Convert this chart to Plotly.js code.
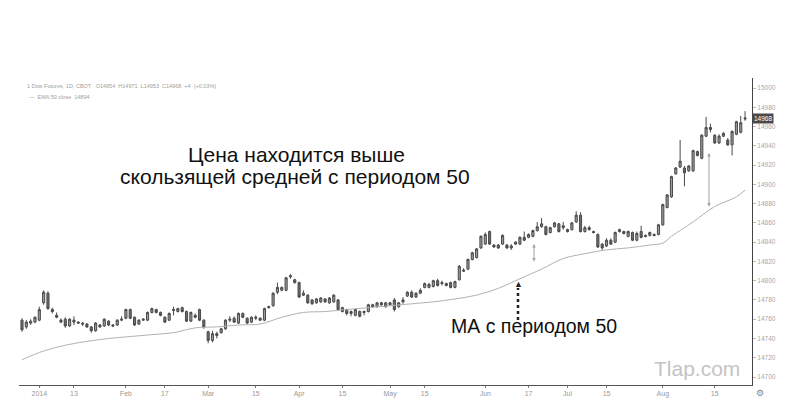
<!DOCTYPE html>
<html><head><meta charset="utf-8">
<script src="https://cdn.plot.ly/plotly-3.0.1.min.js"></script>
<style>html,body{margin:0;padding:0;background:#fff}#chart{width:798px;height:418px}</style>
</head><body><div id="chart"></div>
<script>
// daily candles (index order)
const opens = [14759,14752,14756,14757,14759,14777,14787,14770,14764,14759,
14760,14753,14759,14757,14756,14755,14752,14748,14754,14753,
14758,14754,14754,14759,14761,14770,14762,14755,14759,14759,
14767,14770,14767,14762,14759,14769,14768,14772,14768,14758,
14764,14770,14759,14747,14738,14745,14746,14750,14759,14761,
14756,14766,14761,14757,14761,14761,14759,14772,14774,14788,
14790,14790,14804,14801,14798,14785,14785,14780,14777,14778,
14781,14777,14778,14780,14772,14770,14768,14764,14768,14767,
14768,14775,14773,14777,14777,14775,14780,14773,14778,14784,
14788,14783,14787,14793,14793,14794,14800,14797,14797,14798,
14793,14801,14811,14812,14822,14824,14834,14838,14851,14837,
14837,14838,14837,14834,14838,14838,14845,14845,14846,14852,
14856,14856,14850,14856,14859,14855,14853,14853,14861,14868,
14851,14855,14851,14848,14838,14836,14842,14840,14851,14851,
14846,14850,14842,14851,14847,14847,14848,14848,14858,14876,
14887,14911,14918,14917,14914,14914,14934,14927,14950,14959,
14951,14943,14950,14946,14941,14952,14954,14969];
const highs = [14761,14759,14760,14763,14773,14790,14789,14772,14767,14761,
14762,14761,14763,14758,14757,14756,14753,14757,14755,14761,
14759,14755,14760,14763,14771,14771,14763,14760,14761,14768,
14772,14771,14768,14763,14767,14773,14772,14773,14769,14768,
14766,14771,14760,14748,14748,14747,14751,14760,14763,14763,
14767,14767,14762,14763,14764,14762,14772,14774,14788,14798,
14794,14804,14807,14802,14799,14790,14786,14781,14782,14783,
14782,14783,14786,14781,14773,14771,14769,14771,14769,14769,
14776,14776,14778,14778,14778,14778,14782,14778,14783,14789,
14790,14788,14792,14798,14798,14801,14802,14800,14798,14799,
14800,14816,14813,14823,14830,14834,14847,14850,14852,14838,
14838,14848,14838,14838,14841,14846,14851,14849,14853,14861,
14865,14857,14856,14861,14860,14861,14854,14861,14872,14871,
14857,14857,14852,14849,14839,14844,14844,14851,14854,14852,
14852,14851,14851,14857,14848,14851,14849,14859,14880,14890,
14909,14918,14946,14919,14920,14936,14935,14952,14970,14963,
14952,14952,14954,14948,14956,14966,14971,14976];
const lows = [14747,14750,14754,14756,14758,14775,14770,14766,14761,14756,
14751,14752,14754,14755,14753,14751,14746,14747,14751,14752,
14753,14752,14753,14758,14760,14760,14753,14754,14758,14758,
14766,14766,14763,14756,14758,14764,14767,14767,14757,14757,
14761,14758,14750,14735,14736,14740,14745,14749,14757,14756,
14755,14761,14755,14756,14759,14758,14758,14771,14773,14786,
14789,14789,14802,14797,14782,14784,14776,14775,14776,14777,
14777,14776,14777,14769,14767,14764,14763,14763,14762,14764,
14767,14772,14772,14774,14772,14774,14768,14772,14776,14783,
14782,14782,14786,14792,14792,14793,14794,14795,14794,14792,
14792,14800,14809,14811,14821,14823,14833,14837,14837,14834,
14833,14837,14833,14832,14837,14837,14841,14844,14845,14851,
14855,14847,14849,14855,14850,14853,14850,14852,14860,14850,
14850,14852,14849,14834,14832,14835,14837,14839,14850,14848,
14845,14841,14841,14844,14845,14846,14846,14847,14857,14875,
14886,14910,14917,14898,14913,14913,14929,14926,14949,14954,
14942,14942,14949,14940,14930,14951,14953,14966];
const closes = [14749,14757,14758,14762,14770,14788,14771,14768,14762,14757,
14753,14760,14757,14756,14755,14752,14748,14756,14752,14760,
14754,14753,14759,14760,14770,14761,14754,14759,14760,14767,
14771,14767,14764,14757,14766,14770,14771,14768,14758,14767,
14762,14759,14752,14738,14745,14743,14750,14759,14760,14757,
14766,14762,14756,14762,14762,14759,14771,14773,14787,14793,
14793,14803,14805,14798,14783,14787,14777,14776,14781,14782,
14778,14782,14785,14770,14768,14766,14766,14770,14763,14768,
14775,14773,14777,14775,14773,14777,14770,14777,14780,14788,
14783,14787,14790,14797,14796,14800,14795,14798,14795,14793,
14799,14815,14810,14822,14829,14833,14846,14848,14838,14835,
14834,14847,14834,14836,14840,14845,14842,14848,14852,14856,
14859,14848,14855,14860,14851,14857,14851,14860,14868,14851,
14855,14853,14850,14835,14834,14842,14838,14850,14853,14849,
14851,14842,14849,14845,14846,14850,14847,14858,14879,14889,
14908,14917,14924,14912,14919,14935,14930,14951,14959,14957,
14943,14950,14953,14941,14955,14965,14964,14968];

// moving average (period 50), read at selected candle indices
const maIndex = [0,5,10,15,20,25,30,35,40,45,50,55,60,65,70,75,80,85,90,95,100,105,110,115,120,125,130,135,140,145,148,150,155,160,165,167];
const maValues = [14718,14727,14733,14737,14740,14742,14744,14746,14751,14752,14754,14755,14762,14767,14768,14770,14772,14774,14776,14778,14781,14785,14792,14802,14812,14823,14828,14832,14834,14837,14839,14846,14861,14877,14887,14894];

// x-axis tick labels
const tickIndex = [4,12,24,33,43,54,64,74,85,93,107,117,126,135,148,160];
const tickLabels = ["2014","13","Feb","17","Mar","15","Apr","15","May","15","Jun","17","Jul","15","Aug","15"];

const headerLine1 = "1 Dow Futures, 1D, CBOT   O14954  H14971  L14953  C14968  +4  (+0.03%)";
const headerLine2 = "—  EMA 50 close  14894";
const textLine1 = "Цена находится выше";
const textLine2 = "скользящей средней с периодом 50";
const maLabel = "МА с периодом 50";
const watermark = "Tlap.com";

const idx = opens.map((_, i) => i);

const L = 19, R = 752, T = 78, B = 385, W = 798, H = 418;
const px = x => (x - L) / (R - L);
const py = y => (B - y) / (B - T);

const traces = [
  {
    type: 'scatter', mode: 'lines', x: maIndex, y: maValues,
    line: {color: '#b2b2b2', width: 1, shape: 'spline'}, hoverinfo: 'skip'
  },
  {
    type: 'candlestick', x: idx, open: opens, high: highs, low: lows, close: closes,
    increasing: {line: {color: '#4a4a4a', width: 1}, fillcolor: '#9a9a9a'},
    decreasing: {line: {color: '#4a4a4a', width: 1}, fillcolor: '#6c6c6c'},
    whiskerwidth: 0
  }
];

const sans = 'Liberation Sans, Arial, sans-serif';
const lastClose = closes[closes.length - 1];

const layout = {
  width: W, height: H,
  margin: {l: L, r: W - R, t: T, b: H - B, pad: 0},
  paper_bgcolor: '#ffffff', plot_bgcolor: '#ffffff',
  showlegend: false,
  font: {family: sans},
  xaxis: {
    range: [-0.69, 168.6], showgrid: false, zeroline: false,
    rangeslider: {visible: false},
    tickvals: tickIndex, ticktext: tickLabels,
    tickfont: {size: 7, color: '#999', family: sans},
    ticks: 'outside', ticklen: 2, tickcolor: '#777',
    showline: true, linecolor: '#555', linewidth: 1
  },
  yaxis: {
    side: 'right', range: [14691.7, 15010.4], showgrid: false, zeroline: false,
    tick0: 14700, dtick: 20, tickformat: 'd',
    tickfont: {size: 6.5, color: '#a8a8a8', family: sans},
    ticks: 'outside', ticklen: 3, tickcolor: '#bbb',
    showline: true, linecolor: '#444', linewidth: 1
  },
  shapes: [
    {type: 'line', xref: 'paper', yref: 'paper', x0: px(518), x1: px(518), y0: py(320), y1: py(288),
     line: {color: '#222', width: 2.5, dash: 'dot'}}
  ],
  annotations: [
    {xref: 'paper', yref: 'paper', x: px(25), y: py(86), xanchor: 'left', yanchor: 'middle', showarrow: false,
     text: headerLine1, font: {size: 5.5, color: '#a0a0a0', family: sans}},
    {xref: 'paper', yref: 'paper', x: px(27), y: py(97), xanchor: 'left', yanchor: 'middle', showarrow: false,
     text: headerLine2, font: {size: 5.5, color: '#a0a0a0', family: sans}},
    {xref: 'paper', yref: 'paper', x: px(296), y: py(154), xanchor: 'center', yanchor: 'middle', showarrow: false,
     text: textLine1, font: {size: 21, color: '#111', family: sans}},
    {xref: 'paper', yref: 'paper', x: px(295), y: py(176), xanchor: 'center', yanchor: 'middle', showarrow: false,
     text: textLine2, font: {size: 21, color: '#111', family: sans}},
    {xref: 'paper', yref: 'paper', x: px(534), y: py(326), xanchor: 'center', yanchor: 'middle', showarrow: false,
     text: maLabel, font: {size: 19.5, color: '#111', family: sans}},
    {xref: 'paper', yref: 'paper', x: px(742), y: py(368), xanchor: 'right', yanchor: 'middle', showarrow: false,
     text: watermark, font: {size: 21, color: '#c4c4c4', family: sans}},
    {xref: 'paper', yref: 'paper', x: px(518), y: py(284), xanchor: 'center', yanchor: 'middle', showarrow: false,
     text: '▲', font: {size: 9, color: '#222', family: sans}},
    {xref: 'paper', yref: 'paper', x: px(534), y: py(244), ax: 0, ay: 19, text: '', showarrow: true,
     arrowhead: 2, arrowsize: 0.7, arrowwidth: 1, arrowcolor: '#a0a0a0', arrowside: 'end+start'},
    {xref: 'paper', yref: 'paper', x: px(709), y: py(153), ax: 0, ay: 55, text: '', showarrow: true,
     arrowhead: 2, arrowsize: 0.7, arrowwidth: 1, arrowcolor: '#a0a0a0', arrowside: 'end+start'},
    {xref: 'paper', yref: 'y', x: 1, y: lastClose, xanchor: 'left', yanchor: 'middle', showarrow: false,
     text: String(lastClose), bgcolor: '#4a4a4a', borderpad: 1,
     font: {size: 6.5, color: '#fff', family: sans}},
    {xref: 'paper', yref: 'paper', x: px(760), y: py(393), xanchor: 'center', yanchor: 'middle', showarrow: false,
     text: '⚙', font: {size: 9, color: '#888', family: 'DejaVu Sans'}}
  ]
};

Plotly.newPlot('chart', traces, layout, {staticPlot: true, displayModeBar: false});
</script>
</body></html>
